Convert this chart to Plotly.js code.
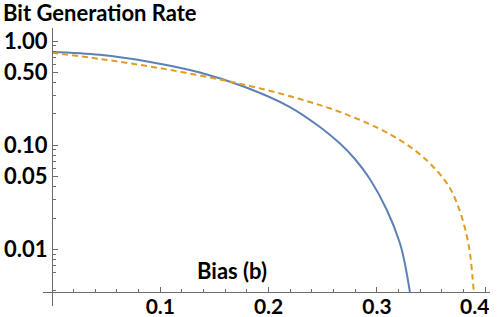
<!DOCTYPE html>
<html>
<head>
<meta charset="utf-8">
<script src="https://cdn.plot.ly/plotly-3.0.1.min.js"></script>
<style>html,body{margin:0;padding:0;background:#fff;}#chart{width:500px;height:317px;}</style>
</head>
<body>
<div id="chart"></div>
<script>
// Data
const blueBias = [0, 0.0443, 0.0905, 0.1366, 0.1782, 0.2197, 0.2474, 0.2659, 0.2797, 0.2935, 0.3092, 0.3212, 0.3259, 0.3305];
const blueRate = [0.784, 0.737, 0.629, 0.4984, 0.3619, 0.2326, 0.1495, 0.1038, 0.0737, 0.0474, 0.02388, 0.01151, 0.00724, 0.0039];
const orangeBias = [0, 0.0443, 0.0905, 0.1366, 0.1828, 0.2289, 0.2659, 0.3028, 0.3240, 0.3397, 0.3554, 0.3674, 0.3766, 0.3828, 0.3859, 0.3883, 0.3895];
const orangeRate = [0.772, 0.672, 0.569, 0.4664, 0.3699, 0.2776, 0.2083, 0.1430, 0.1073, 0.0818, 0.0569, 0.0388, 0.02336, 0.01374, 0.00924, 0.00543, 0.0039];

const xTickVals = [0.1, 0.2, 0.3, 0.4];
const xTickText = ['0.1', '0.2', '0.3', ''];
const lastXTickText = '0.4';   // drawn right-aligned so it stays inside the picture
const xMinorVals = [0.02, 0.04, 0.06, 0.08, 0.12, 0.14, 0.16, 0.18, 0.22, 0.24, 0.26, 0.28, 0.32, 0.34, 0.36, 0.38];
const yTickVals = [0.01, 0.05, 0.1, 0.5, 1];
const yTickText = ['0.01', '0.05', '0.10', '0.50', '1.00'];
const yMinorVals = [0.004, 0.006, 0.007, 0.008, 0.009, 0.02, 0.03, 0.04, 0.06, 0.07, 0.08, 0.09, 0.2, 0.3, 0.4, 0.6, 0.7, 0.8, 0.9];

const titleText = 'Bit Generation Rate';
const xLabelText = 'Bias (b)';

const FONT = 'Lato, "Open Sans", sans-serif';
const AXC = '#6b6b6b';

const traces = [
  {x: blueBias, y: blueRate, type: 'scatter', mode: 'lines',
   line: {color: '#5E81B5', width: 2, shape: 'spline', smoothing: 1}, hoverinfo: 'skip'},
  {x: orangeBias, y: orangeRate, type: 'scatter', mode: 'lines',
   line: {color: '#E19C24', width: 2, dash: '6px,4px', shape: 'spline', smoothing: 1}, hoverinfo: 'skip'}
];

const layout = {
  width: 500, height: 317,
  margin: {l: 43, r: 10, t: 28, b: 11, pad: 0},
  paper_bgcolor: '#fff', plot_bgcolor: '#fff',
  showlegend: false,
  font: {family: FONT, color: '#000'},
  title: {text: titleText, x: 0.006, xanchor: 'left', xref: 'container',
          y: 1 - 13 / 317, yanchor: 'middle', yref: 'container',
          font: {family: FONT, size: 22, weight: 'bold', color: '#000'}},
  xaxis: {
    range: [-0.00831, 0.40443], anchor: 'free', position: 0.0504,
    showgrid: false, zeroline: false, showline: true, linecolor: AXC, linewidth: 1,
    tickmode: 'array', tickvals: xTickVals, ticktext: xTickText,
    ticks: 'inside', ticklen: 5, tickcolor: AXC, tickwidth: 1,
    ticklabelstandoff: -4, ticklabeloverflow: 'allow',
    tickfont: {family: FONT, size: 21, weight: 'bold', color: '#000'},
    minor: {tickmode: 'array', tickvals: xMinorVals, ticks: 'inside', ticklen: 3, tickcolor: AXC, showgrid: false}
  },
  yaxis: {
    type: 'log', range: [-2.543, 0.1248], anchor: 'free', position: 0.0201,
    showgrid: false, zeroline: false, showline: true, linecolor: AXC, linewidth: 1,
    tickmode: 'array', tickvals: yTickVals, ticktext: yTickText,
    ticks: 'inside', ticklen: 5, tickcolor: AXC, tickwidth: 1,
    tickfont: {family: FONT, size: 22, weight: 'bold', color: '#000'},
    minor: {tickmode: 'array', tickvals: yMinorVals, ticks: 'inside', ticklen: 3, tickcolor: AXC, showgrid: false}
  },
  annotations: [
    {text: xLabelText, xref: 'paper', yref: 'paper', x: (232 - 43) / 447, y: (306 - 270) / 278,
     xanchor: 'center', yanchor: 'middle', showarrow: false,
     font: {family: FONT, size: 22, weight: 'bold', color: '#000'}},
    {text: lastXTickText, xref: 'paper', yref: 'paper', x: 1.0, y: (306 - 305) / 278,
     xanchor: 'right', yanchor: 'middle', showarrow: false, borderpad: 0, height: 18,
     font: {family: FONT, size: 21, weight: 'bold', color: '#000'}}
  ]
};

Plotly.newPlot('chart', traces, layout, {displayModeBar: false, staticPlot: true});
</script>
</body>
</html>
